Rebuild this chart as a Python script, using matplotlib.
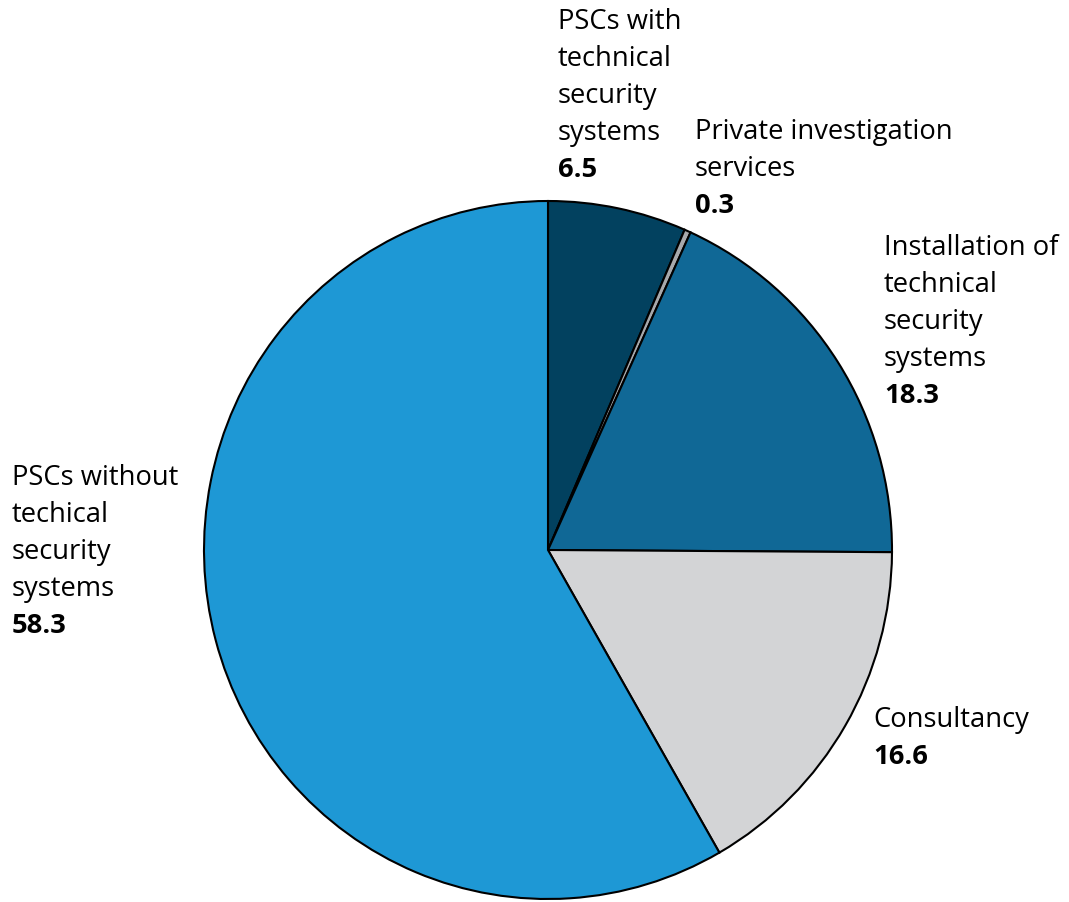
import matplotlib
matplotlib.use("Agg")
import matplotlib.pyplot as plt

categories = ["PSCs with\ntechnical\nsecurity\nsystems",
              "Private investigation\nservices",
              "Installation of\ntechnical\nsecurity\nsystems",
              "Consultancy",
              "PSCs without\ntechical\nsecurity\nsystems"]
values = [6.5, 0.3, 18.3, 16.6, 58.3]
value_labels = ["6.5", "0.3", "18.3", "16.6", "58.3"]

colors = ["#02415f", "#a7a9ac", "#106896", "#d3d4d6", "#1e98d5"]
# label anchor (first-line centre) in pixel coords of the reference image
label_px = [(558, 22), (695, 132), (884, 248), (873, 720), (12, 478)]

W, H = 1069, 902
cx, cy, RX, RY = 548, 550, 344, 349

plt.rcParams['font.family'] = ['Open Sans', 'DejaVu Sans']
fig = plt.figure(figsize=(W / 100, H / 100), dpi=100)
ax = fig.add_axes([0, 0, 1, 1])
ax.pie(values, colors=colors, startangle=90, counterclock=False, radius=1,
       wedgeprops=dict(edgecolor="black", linewidth=1.5))
ax.set_aspect("auto")
ax.set_xlim(-cx / RX, (W - cx) / RX)
ax.set_ylim(-(H - cy) / RY, cy / RY)
ax.axis("off")

lh = 37 / RY
fs = 19.7
for name, val, (px, py) in zip(categories, value_labels, label_px):
    x = (px - cx) / RX
    y = (cy - py) / RY
    lines = name.split("\n")
    for i, ln in enumerate(lines):
        ax.text(x, y - i * lh, ln, ha="left", va="center", fontsize=fs, color="black")
    ax.text(x, y - len(lines) * lh, val, ha="left", va="center", fontsize=fs,
            fontweight="bold", color="black")

fig.savefig("out.png", dpi=100)
